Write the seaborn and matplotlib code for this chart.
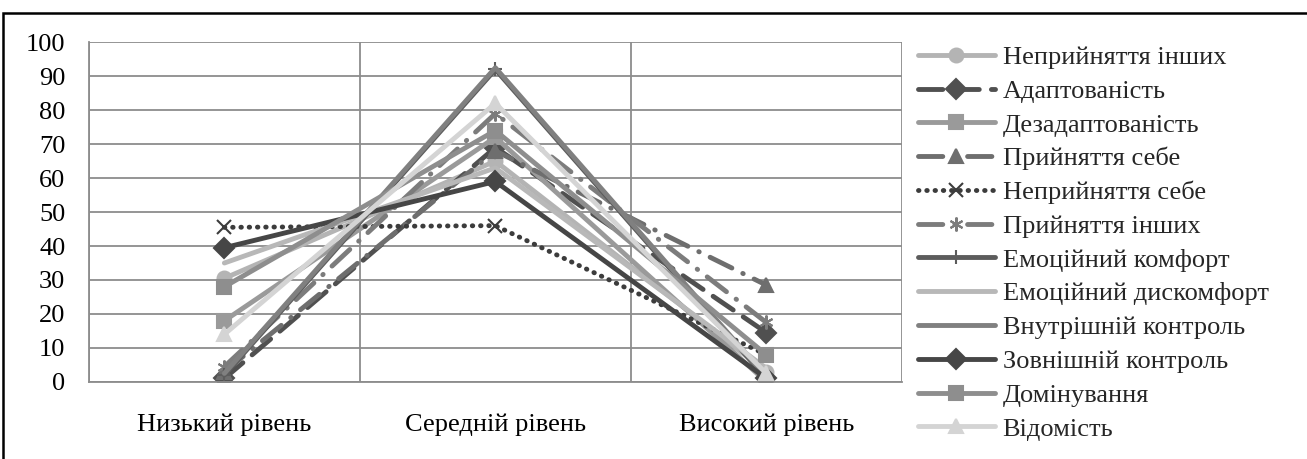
import matplotlib
matplotlib.use("Agg")
import matplotlib.pyplot as plt
import seaborn as sns
import pandas as pd
from matplotlib.patches import Rectangle

levels = ["Низький рівень", "Середній рівень", "Високий рівень"]

series_names = [
    "Неприйняття інших",
    "Адаптованість",
    "Дезадаптованість",
    "Прийняття себе",
    "Неприйняття себе",
    "Прийняття інших",
    "Емоційний комфорт",
    "Емоційний дискомфорт",
    "Внутрішній контроль",
    "Зовнішній контроль",
    "Домінування",
    "Відомість",
]

nepryiniattia_inshykh = [30.5, 65, 3]
adaptovanist = [1, 69, 14.5]
dezadaptovanist = [18, 72, 0]
pryiniattia_sebe = [3, 68, 28.5]
nepryiniattia_sebe = [45.5, 46, 8]
pryiniattia_inshykh = [4.5, 79, 17.5]
emotsiinyi_komfort = [2, 92, 1]
emotsiinyi_dyskomfort = [35, 63, 4]
vnutrishnii_kontrol = [2.5, 92.5, 1.5]
zovnishnii_kontrol = [39.5, 59, 1]
dominuvannia = [28, 74, 8]
vidomist = [14, 82, 2.5]

values = [
    nepryiniattia_inshykh, adaptovanist, dezadaptovanist, pryiniattia_sebe,
    nepryiniattia_sebe, pryiniattia_inshykh, emotsiinyi_komfort,
    emotsiinyi_dyskomfort, vnutrishnii_kontrol, zovnishnii_kontrol,
    dominuvannia, vidomist,
]

# per-series look: colour, marker, dash pattern
styles = [
    dict(color="#b4b4b4", marker="o", dashes=None),
    dict(color="#505050", marker="D", dashes=(5, 2.5)),
    dict(color="#9a9a9a", marker="s", dashes=None),
    dict(color="#6e6e6e", marker="^", dashes=(5, 2.5, 0.1, 2.5)),
    dict(color="#3c3c3c", marker="x", dashes=(0.1, 1.6)),
    dict(color="#7c7c7c", marker=(6, 2, 0), dashes=(5, 2.5, 0.1, 2.5)),
    dict(color="#5c5c5c", marker="+", dashes=None),
    dict(color="#b8b8b8", marker=None, dashes=None),
    dict(color="#808080", marker=None, dashes=None),
    dict(color="#464646", marker="D", dashes=None),
    dict(color="#8e8e8e", marker="s", dashes=None),
    dict(color="#d4d4d4", marker="^", dashes=None),
]

df = pd.DataFrame(
    [(name, lvl, v) for name, vals in zip(series_names, values)
     for lvl, v in zip(levels, vals)],
    columns=["series", "level", "value"],
)

sns.set_theme(style="white")
plt.rcParams["font.family"] = ["Liberation Serif", "DejaVu Serif"]

fig = plt.figure(figsize=(13.07, 4.59), dpi=100)
ax = fig.add_axes([0.068, 0.168, 0.622, 0.74])

for name, st in zip(series_names, styles):
    sub = df[df["series"] == name]
    kw = dict(color=st["color"], linewidth=3.5, markersize=10,
              markeredgecolor=st["color"], markeredgewidth=1.5,
              dash_capstyle="round", solid_capstyle="round")
    if st["marker"] is not None:
        kw["marker"] = st["marker"]
    sns.lineplot(data=sub, x="level", y="value", ax=ax, label=name,
                 sort=False, **kw)
    ln = ax.get_lines()[-1]
    if st["dashes"] is not None:
        ln.set_dashes(st["dashes"])

ax.set_xlim(-0.5, 2.5)
ax.set_ylim(0, 100)
ax.set_yticks(range(0, 101, 10))
ax.set_xlabel("")
ax.set_ylabel("")

ax.set_xticks([-0.5, 0.5, 1.5, 2.5], minor=True)
ax.tick_params(axis="x", which="major", length=0, labelsize=19, pad=23,
               colors="black")
ax.tick_params(axis="x", which="minor", length=6, width=1.2, color="#8c8c8c",
               direction="out")
ax.tick_params(axis="y", which="major", length=6, width=1.2, color="#8c8c8c",
               direction="out", labelsize=19, labelcolor="black", pad=11)

ax.grid(False)
ax.yaxis.grid(True, color="#8c8c8c", linewidth=1.3)
ax.xaxis.grid(True, which="minor", color="#8c8c8c", linewidth=1.3)
ax.set_axisbelow(True)
for side in ["top", "right"]:
    ax.spines[side].set_visible(False)
for side in ["left", "bottom"]:
    ax.spines[side].set_color("#8c8c8c")
    ax.spines[side].set_linewidth(1.3)

ax.legend(loc="upper left", bbox_to_anchor=(1.02, 0.99), frameon=False,
          fontsize=19, handlelength=2.9, handletextpad=0.3,
          labelspacing=0.39, borderaxespad=0, borderpad=0)

fig.patches.append(Rectangle((3 / 1307, -0.2), 1.2, 1 - 13 / 459 + 0.2,
                             transform=fig.transFigure, fill=False,
                             edgecolor="black", linewidth=1.8))

fig.savefig("out.png", dpi=100)
